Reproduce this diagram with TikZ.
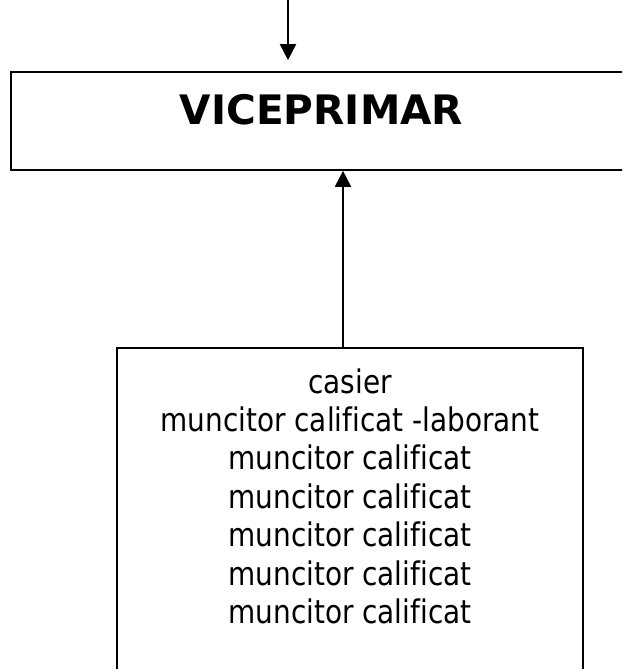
\documentclass[tikz,border=0pt]{standalone}
\usepackage{fontspec}
\setmainfont{DejaVu Sans Condensed}[Ligatures=NoCommon]
\newfontfamily\titlefont{DejaVu Sans Bold}[Ligatures=NoCommon]
\usetikzlibrary{arrows.meta}
\begin{document}
\begin{tikzpicture}[x=1pt,y=1pt,
  boxline/.style={draw=black, line width=1.7pt, rectangle, inner sep=0pt},
  arr/.style={line width=1.9pt, -{Triangle[length=16pt,width=16pt]}},
  titletxt/.style={font=\titlefont\fontsize{40.6}{48}\selectfont, inner sep=0pt},
  stafftxt/.style={font=\fontsize{32.5}{38.4}\selectfont, inner sep=0pt}
]
\clip (0,0) rectangle (622,-669);
\node[boxline, minimum width=629pt, minimum height=98pt] (vice) at (325.5,-121) {};
\node[titletxt] (vicetxt) at (321.5,-110) {VICEPRIMAR};
\node[boxline, minimum width=466pt, minimum height=360pt] (staff) at (350,-528) {};
\node[stafftxt, anchor=north] (stafftext) at (350,-366) {\scalebox{0.955}[1]{\begin{tabular}{@{}c@{}}casier\\muncitor calificat -laborant\\muncitor calificat\\muncitor calificat\\muncitor calificat\\muncitor calificat\\muncitor calificat\end{tabular}}};
\coordinate (ta) at (288,2);
\coordinate (ba) at (343,-348);
\draw[arr, shorten >=11pt] (ta) -- (ta |- vice.north);
\draw[arr] (ba) -- (ba |- vice.south);
\end{tikzpicture}
\end{document}
